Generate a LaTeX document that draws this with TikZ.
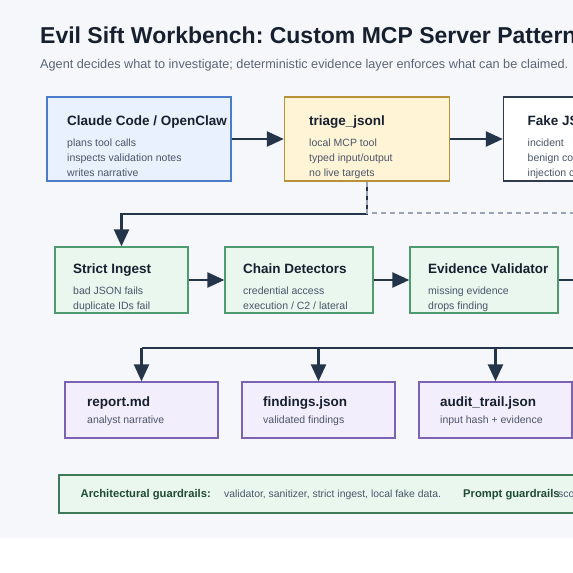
\documentclass[tikz,border=0pt]{standalone}
\usepackage{fontspec}
\setmainfont{Liberation Sans}
\usetikzlibrary{arrows.meta,positioning}
\frenchspacing

\definecolor{pagebg}{HTML}{F5F7FA}
\definecolor{ink}{HTML}{17202F}
\definecolor{subgrey}{HTML}{5B6577}
\definecolor{notegrey}{HTML}{4A5568}
\definecolor{flow}{HTML}{243449}
\definecolor{dashgrey}{HTML}{9AA4B2}
\definecolor{agentfill}{HTML}{E8F1FD}
\definecolor{agentline}{HTML}{4A7CC9}
\definecolor{toolfill}{HTML}{FFF4D6}
\definecolor{toolline}{HTML}{B8923A}
\definecolor{dataline}{HTML}{2F3B4F}
\definecolor{stagefill}{HTML}{E9F7EE}
\definecolor{stageline}{HTML}{4F9A6E}
\definecolor{outfill}{HTML}{F3EEFC}
\definecolor{outline}{HTML}{7B62B3}
\definecolor{guardline}{HTML}{3E7A59}
\definecolor{guardink}{HTML}{1F4A33}

\begin{document}
\begin{tikzpicture}[x=1pt,y=-1pt]
        \tikzstyle{box} = [rectangle, line width=1.4pt, inner sep=0pt]
        \tikzstyle{agentbox} = [box, fill=agentfill, draw=agentline, minimum width=184pt, minimum height=84pt]
        \tikzstyle{toolbox} = [box, fill=toolfill, draw=toolline, minimum width=165pt, minimum height=84pt]
        \tikzstyle{databox} = [box, fill=white, draw=dataline, minimum width=165pt, minimum height=84pt]
        \tikzstyle{stagebox} = [box, fill=stagefill, draw=stageline, minimum width=148pt, minimum height=66pt]
        \tikzstyle{outbox} = [box, fill=outfill, draw=outline, minimum width=153pt, minimum height=56pt]
        \tikzstyle{head} = [anchor=base west, inner sep=0pt, text=ink, font=\fontsize{13.5}{16}\selectfont\bfseries]
        \tikzstyle{note} = [anchor=base west, inner sep=0pt, align=left, text=notegrey, font=\fontsize{10.5}{15}\selectfont]
        \tikzstyle{link} = [line width=2.5pt, draw=flow]
        \tikzstyle{arrow} = [link, -{Triangle[length=17pt,width=15pt]}]

        \useasboundingbox (0,0) rectangle (573,573);
        \clip (0,0) rectangle (573,573);
        \fill[pagebg] (0,0) rectangle (573,538);

        % title
        \node (title) [anchor=base west, inner sep=0pt, text=ink, font=\fontsize{23}{28}\selectfont\bfseries] at (40,43) {Evil Sift Workbench: Custom MCP Server Pattern};
        \node (subtitle) [anchor=base west, inner sep=0pt, text=subgrey, font=\fontsize{12.7}{15}\selectfont] at (40,68) {Agent decides what to investigate; deterministic evidence layer enforces what can be claimed.};

        % top row (note nodes sit on their last line)
        \node (agent) [agentbox] at (139,139) {};
        \node (tool) [toolbox] at (367,139) {};
        \node (data) [databox] at (586,139) {};
        \node (agent-h) [head] at (67,125.5) {Claude Code / OpenClaw};
        \node (agent-n) [note] at (67,176.5) {plans tool calls\\inspects validation notes\\writes narrative};
        \node (tool-h) [head] at (309,125.5) {triage\_jsonl};
        \node (tool-n) [note] at (309,176.5) {local MCP tool\\typed input/output\\no live targets};
        \node (data-h) [head] at (527.5,125.5) {Fake JSONL};
        \node (data-n) [note] at (527.5,176.5) {incident\\benign context\\injection canary};

        % middle row
        \node (ingest) [stagebox, minimum width=133pt] at (121.5,280) {};
        \node (chain) [stagebox] at (299,280) {};
        \node (valid) [stagebox] at (484,280) {};
        \node (ingest-h) [head] at (73,273) {Strict Ingest};
        \node (ingest-n) [note] at (73,309.5) {bad JSON fails\\duplicate IDs fail};
        \node (chain-h) [head] at (243,273) {Chain Detectors};
        \node (chain-n) [note] at (243,309.5) {credential access\\execution / C2 / lateral};
        \node (valid-h) [head] at (428,273) {Evidence Validator};
        \node (valid-n) [note] at (428,309.5) {missing evidence\\drops finding};

        % outputs
        \node (report) [outbox] at (141.5,410) {};
        \node (findings) [outbox] at (318.5,410) {};
        \node (audit) [outbox] at (495.5,410) {};
        \node (report-h) [head] at (87,406.5) {report.md};
        \node (report-n) [note] at (87,423.7) {analyst narrative};
        \node (findings-h) [head] at (263,406.5) {findings.json};
        \node (findings-n) [note] at (263,423.7) {validated findings};
        \node (audit-h) [head] at (440,406.5) {audit\_trail.json};
        \node (audit-n) [note] at (440,423.7) {input hash + evidence};

        % guardrails
        \node (guard) [box, fill=stagefill, draw=guardline, line width=2pt, minimum width=561pt, minimum height=38pt] at (339.5,493.5) {};
        \node (guard-a) [anchor=base west, inner sep=0pt, text=guardink, font=\fontsize{11.2}{13}\selectfont\bfseries] at (80.5,497.5) {Architectural guardrails:};
        \node (guard-b) [anchor=base west, inner sep=0pt, text=notegrey, font=\fontsize{10.4}{13}\selectfont] at (224,497.5) {validator, sanitizer, strict ingest, local fake data.};
        \node (guard-c) [anchor=base west, inner sep=0pt, text=guardink, font=\fontsize{11.2}{13}\selectfont\bfseries] at (463,497.5) {Prompt guardrails};
        \node (guard-d) [anchor=base west, inner sep=0pt, text=notegrey, font=\fontsize{10.4}{13}\selectfont] at (558,497.5) {scope, refusal rules, no live targets.};

        % connectors
        \coordinate (side) at (600,213);
        \coordinate (vout) at (600,280);
        \coordinate (bus) at (600,348);
        \draw[arrow] (agent) -- (tool);
        \draw[arrow] (tool) -- (data);
        \draw[arrow] (tool.south) -- ++(0,32.5) -| (ingest.north);
        \draw[dashgrey, line width=1.4pt, dash pattern=on 5pt off 4pt] (tool.south) |- (side);
        \draw[arrow] (ingest) -- (chain);
        \draw[arrow] (chain) -- (valid);
        \draw[link] (valid.east) -- (vout);
        \draw[link] (bus) -- (report.north |- bus);
        \draw[arrow] (report.north |- bus) -- (report.north);
        \draw[arrow] (findings.north |- bus) -- (findings.north);
        \draw[arrow] (audit.north |- bus) -- (audit.north);

\end{tikzpicture}
\end{document}
